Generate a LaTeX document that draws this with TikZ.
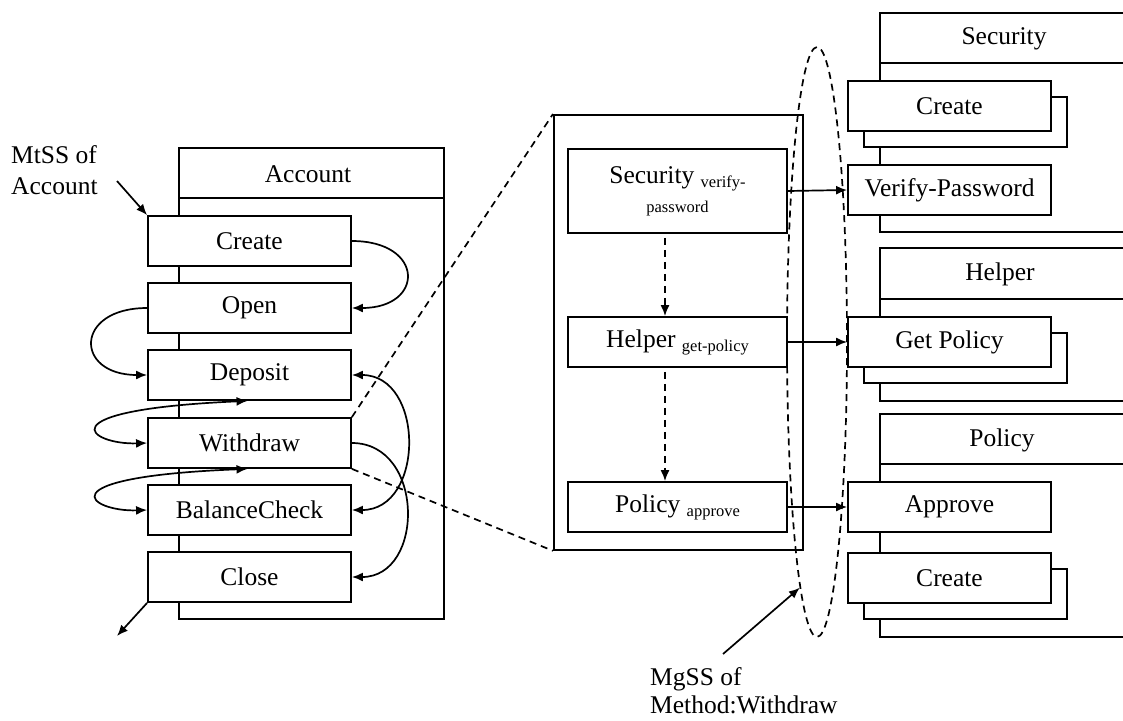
\documentclass[tikz,border=0pt]{standalone}
\usepackage{fontspec}
\setmainfont{Liberation Serif}
\usetikzlibrary{arrows.meta,shapes.geometric}

\newcommand{\sub}[1]{{\fontsize{16.5}{20}\selectfont #1}}

\tikzset{
  every node/.style={font=\fontsize{25.5}{31}\selectfont},
  box/.style={draw, line width=1.8pt, fill=white, inner sep=0pt,
              minimum width=203pt, minimum height=50pt},
  shadowbox/.style={box},
  frame/.style={draw, line width=1.8pt},
  arr/.style={line width=1.7pt, -{Latex[length=11pt,width=9pt]}},
  biarr/.style={line width=1.7pt, {Latex[length=11pt,width=9pt]}-{Latex[length=11pt,width=9pt]}},
  dasharr/.style={line width=1.7pt, dash pattern=on 7pt off 5pt, -{Latex[length=11pt,width=9pt]}},
  zoomline/.style={line width=1.7pt, dash pattern=on 7pt off 5pt},
}

\begin{document}
\begin{tikzpicture}[x=1pt, y=-1pt]
\useasboundingbox (0,0) rectangle (1123,720);

% ---- class Account ----
\draw[frame] (179,148) rectangle (444,619);
\draw[frame] (179,198) -- (444,198);
\node (acct) at (308,174) {Account};

\node[box] (create)  at (249.5,241) {Create};
\node[box] (open)    at (249.5,308) {Open};
\node[box] (deposit) at (249.5,375) {Deposit};
\node[box] (withdraw) at (249.5,443) {Withdraw};
\node[box] (balance) at (249.5,510) {BalanceCheck};
\node[box] (close)   at (249.5,577) {Close};

\node[anchor=base west, align=left, inner sep=0pt] (mtss) at (11,194) {MtSS of\\Account};
\coordinate (mtssend) at (117,181);
\draw[arr] (mtssend) -- (create.north west);
\coordinate (exitpt) at (117,636);
\draw[arr] (close.south west) -- (exitpt);

% transitions between methods
\draw[arr] (create.east) .. controls +(73,0) and +(73,0) .. (open.east);
\draw[arr] (open.west) .. controls +(-73,0) and +(-73,0) .. (deposit.west);
\draw[biarr] ([xshift=-2pt]deposit.south) .. controls (40,410) and (90,445) .. (withdraw.west);
\draw[biarr] ([xshift=-2pt]withdraw.south) .. controls (40,477) and (90,512) .. (balance.west);
\draw[biarr] (deposit.east) .. controls +(73,0) and +(73,0) .. (balance.east);
\draw[arr] (withdraw.east) .. controls +(73,0) and +(73,0) .. (close.east);

% ---- expanded view of Withdraw ----
\node[frame, minimum width=249pt, minimum height=435pt, anchor=north west] (zoom) at (553,114) {};
\draw[zoomline] (withdraw.north east) -- (zoom.north west);
\draw[zoomline] (withdraw.south east) -- (zoom.south west);

\node[box, minimum width=219pt, minimum height=84pt, align=center] (secv) at (677.5,191)
  {Security \raisebox{-4pt}{\sub{verify-}}\\[-2pt]\sub{password}};
\node[box, minimum width=219pt] (helpg) at (677.5,342)
  {Helper \raisebox{-4pt}{\sub{get-policy}}};
\node[box, minimum width=219pt] (polap) at (677.5,507)
  {Policy \raisebox{-4pt}{\sub{approve}}};

\draw[dasharr] ([xshift=-12.5pt,yshift=-4pt]secv.south) -- ([xshift=-12.5pt]helpg.north);
\draw[dasharr] ([xshift=-12.5pt,yshift=-4pt]helpg.south) -- ([xshift=-12.5pt]polap.north);

% ---- class Security ----
\draw[frame] (1140,13) -- (880,13) -- (880,232) -- (1140,232);
\draw[frame] (880,63) -- (1140,63);
\node (secc) at (1004,39) {Security};
\node[shadowbox] (secshadow) at (965.5,122) {};
\node[box] (seccreate) at (949.5,106) {Create};
\node[box] (verify) at (949.5,190) {Verify-Password};

% ---- class Helper ----
\draw[frame] (1140,248) -- (880,248) -- (880,401) -- (1140,401);
\draw[frame] (880,299) -- (1140,299);
\node (helpc) at (1000,274) {Helper};
\node[shadowbox] (getshadow) at (965.5,358) {};
\node[box] (getpol) at (949.5,342) {Get Policy};

% ---- class Policy ----
\draw[frame] (1140,414) -- (880,414) -- (880,637) -- (1140,637);
\draw[frame] (880,464) -- (1140,464);
\node (polc) at (1002,440) {Policy};
\node[box] (approve) at (949.5,507) {Approve};
\node[shadowbox] (polshadow) at (965.5,594) {};
\node[box] (polcreate) at (949.5,578) {Create};

% calls into the other classes
\draw[arr] (secv.east) -- (verify.west);
\draw[arr] (helpg.east) -- (getpol.west);
\draw[arr] (polap.east) -- (approve.west);

% ---- MgSS boundary ----
\node[draw, ellipse, line width=1.7pt, dash pattern=on 7pt off 5pt,
      minimum width=60pt, minimum height=590pt, inner sep=0pt] (mgss) at (817,342) {};
\node[anchor=base west, align=left, inner sep=0pt, font=\fontsize{25.5}{28}\selectfont] (mgsslbl) at (650,713)
  {MgSS of\\Method:Withdraw};
\coordinate (mgssfrom) at (723,654);
\draw[arr] (mgssfrom) -- (mgss.266.6);
\end{tikzpicture}
\end{document}
